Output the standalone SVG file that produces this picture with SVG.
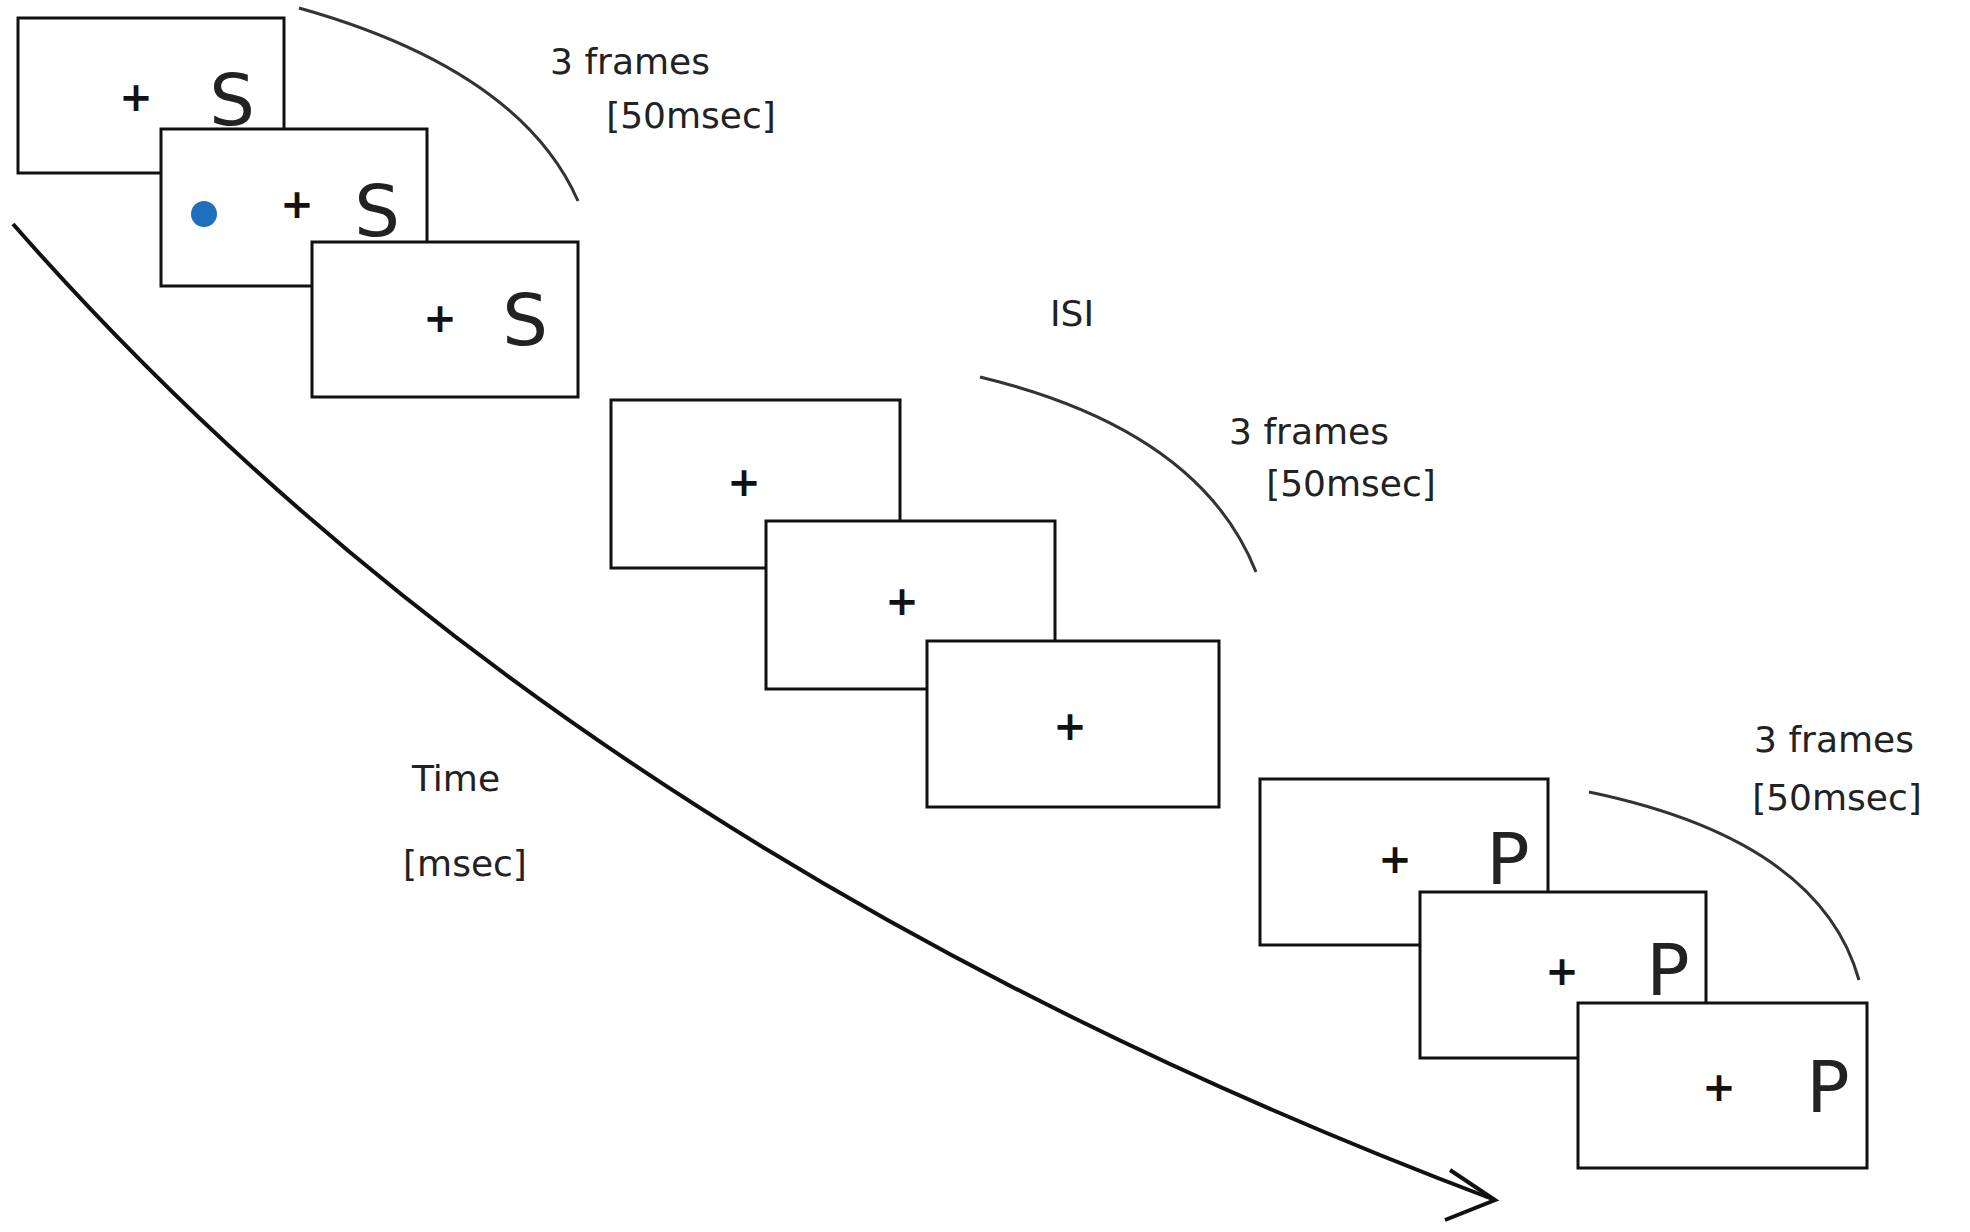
<svg xmlns="http://www.w3.org/2000/svg" width="1970" height="1232" viewBox="0 0 1970 1232">
<style>
.fr{fill:#fff;stroke:#111;stroke-width:3}
.pl{font-family:"DejaVu Sans",sans-serif;font-size:40px;font-weight:bold;fill:#111;text-anchor:middle;dominant-baseline:central}
.lt{font-family:"DejaVu Sans",sans-serif;font-size:72px;fill:#222;text-anchor:middle;dominant-baseline:central}
.lb{font-family:"DejaVu Sans",sans-serif;font-size:36px;fill:#222;text-anchor:middle}
.arc{fill:none;stroke:#333;stroke-width:3}
</style>
<rect width="1970" height="1232" fill="#fff"/>
<g id="connectors">
<path class="arc" d="M299,8 Q520,70 578,201"/>
<path class="arc" d="M980,377 Q1200,430 1256,572"/>
<path class="arc" d="M1589,792 Q1820,840 1859,980"/>
<path d="M13,224 Q560,848 1495,1200" fill="none" stroke="#111" stroke-width="4"/>
<path d="M1450,1170 L1495,1200 L1445,1220" fill="none" stroke="#111" stroke-width="4"/>
</g>
<g id="g1f1"><rect class="fr" x="18" y="18" width="266" height="155"/><text class="pl" x="136" y="97">+</text><text class="lt" x="232" y="100">S</text></g>
<g id="g1f2"><rect class="fr" x="161" y="129" width="266" height="157"/><circle cx="204" cy="214" r="13" fill="#1f6fbf"/><text class="pl" x="297" y="204">+</text><text class="lt" x="377" y="211">S</text></g>
<g id="g1f3"><rect class="fr" x="312" y="242" width="266" height="155"/><text class="pl" x="440" y="318">+</text><text class="lt" x="525" y="320">S</text></g>
<g id="g2f1"><rect class="fr" x="611" y="400" width="289" height="168"/><text class="pl" x="744" y="482">+</text></g>
<g id="g2f2"><rect class="fr" x="766" y="521" width="289" height="168"/><text class="pl" x="902" y="601">+</text></g>
<g id="g2f3"><rect class="fr" x="927" y="641" width="292" height="166"/><text class="pl" x="1070" y="726">+</text></g>
<g id="g3f1"><rect class="fr" x="1260" y="779" width="288" height="166"/><text class="pl" x="1395" y="859">+</text><text class="lt" x="1508" y="859" font-size="60">P</text></g>
<g id="g3f2"><rect class="fr" x="1420" y="892" width="286" height="166"/><text class="pl" x="1562" y="971">+</text><text class="lt" x="1668" y="970" font-size="60">P</text></g>
<g id="g3f3"><rect class="fr" x="1578" y="1003" width="289" height="165"/><text class="pl" x="1719" y="1087">+</text><text class="lt" x="1828" y="1087" font-size="60">P</text></g>
<g id="labels">
<text class="lb" x="630" y="74">3 frames</text><text class="lb" x="691" y="128">[50msec]</text>
<text class="lb" x="1309" y="444">3 frames</text><text class="lb" x="1351" y="496">[50msec]</text>
<text class="lb" x="1834" y="752">3 frames</text><text class="lb" x="1837" y="810">[50msec]</text>
<text class="lb" x="1072" y="326" font-size="42">ISI</text>
<text class="lb" x="456" y="791" font-size="42">Time</text><text class="lb" x="465" y="876" font-size="42">[msec]</text>
</g>
</svg>
